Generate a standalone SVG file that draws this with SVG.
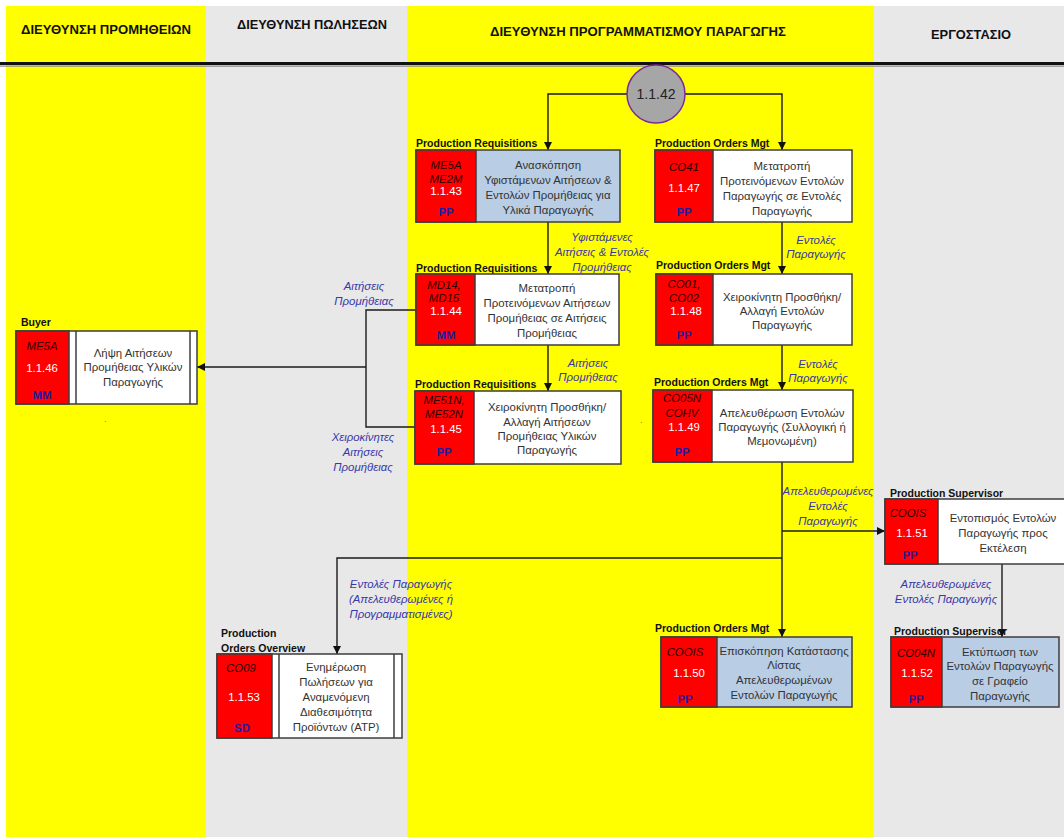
<svg xmlns="http://www.w3.org/2000/svg" width="1064" height="837" viewBox="0 0 1064 837">
  <defs>
    <marker id="arrow" viewBox="0 0 10 10" refX="10" refY="5" markerWidth="8" markerHeight="8" markerUnits="userSpaceOnUse" orient="auto">
      <path d="M0,0 L10,5 L0,10 Z" fill="#111"/>
    </marker>
    <style>
      .lane-y { fill: #ffff00; }
      .lane-g { fill: #e8e8e8; }
      .hdr { font-family: "Liberation Sans", Arial, sans-serif; font-weight: bold; font-size: 13px; text-anchor: middle; fill: #111; }
      .role { font-family: "Liberation Sans", Arial, sans-serif; font-weight: bold; font-size: 10.5px; fill: #111; }
      .box { stroke: #3c3c3c; stroke-width: 1.5; }
      .red { fill: #ff0000; }
      .wht { fill: #ffffff; }
      .blu { fill: #b9cde5; }
      .sep { stroke: #3c3c3c; stroke-width: 1.5; }
      .tx { font-family: "Liberation Sans", Arial, sans-serif; font-size: 11.4px; text-anchor: middle; fill: #333; }
      .tc { font-family: "Liberation Sans", Arial, sans-serif; font-size: 11.4px; font-style: italic; text-anchor: middle; fill: #2a0000; }
      .id { font-family: "Liberation Sans", Arial, sans-serif; font-size: 11.4px; text-anchor: middle; fill: #ffffff; }
      .mod { font-family: "Liberation Sans", Arial, sans-serif; font-size: 11.4px; font-weight: bold; text-anchor: middle; fill: #1c1ca8; }
      .cl { font-family: "Liberation Sans", Arial, sans-serif; font-size: 11.4px; font-style: italic; text-anchor: middle; fill: #3838a8; }
      .conn { stroke: #1a1a1a; stroke-width: 1.4; fill: none; }
      .dot { font-family: "Liberation Sans", Arial, sans-serif; font-size: 9px; fill: #777; }
    </style>
  </defs>

  <!-- swimlanes -->
  <g id="lanes">
    <rect x="0" y="0" width="1064" height="837" fill="#ffffff"/>
    <rect class="lane-y" x="6" y="6" width="200" height="831"/>
    <rect class="lane-g" x="206" y="6" width="201" height="831"/>
    <rect class="lane-y" x="407" y="6" width="467" height="831"/>
    <rect class="lane-g" x="874" y="6" width="190" height="831"/>
    <line x1="0" y1="63.5" x2="1064" y2="63.5" stroke="#111" stroke-width="2.8"/>
    <line x1="0" y1="66.2" x2="1064" y2="66.2" stroke="#8a8a8a" stroke-width="1.2"/>
    <text class="hdr" x="106" y="34" textLength="170" lengthAdjust="spacingAndGlyphs">ΔΙΕΥΘΥΝΣΗ ΠΡΟΜΗΘΕΙΩΝ</text>
    <text class="hdr" x="312" y="29" textLength="150" lengthAdjust="spacingAndGlyphs">ΔΙΕΥΘΥΝΣΗ ΠΩΛΗΣΕΩΝ</text>
    <text class="hdr" x="638" y="36" textLength="296" lengthAdjust="spacingAndGlyphs">ΔΙΕΥΘΥΝΣΗ ΠΡΟΓΡΑΜΜΑΤΙΣΜΟΥ ΠΑΡΑΓΩΓΗΣ</text>
    <text class="hdr" x="971" y="39" textLength="80" lengthAdjust="spacingAndGlyphs">ΕΡΓΟΣΤΑΣΙΟ</text>
    <text class="dot" x="104" y="422">.</text>
    <text class="dot" x="640" y="423">.</text>
  </g>

  <!-- connectors -->
  <g id="connectors">
    <polyline class="conn" points="628,94 548,94 548,150" marker-end="url(#arrow)"/>
    <polyline class="conn" points="685,94 782,94 782,150" marker-end="url(#arrow)"/>
    <line class="conn" x1="548" y1="222" x2="548" y2="274" marker-end="url(#arrow)"/>
    <line class="conn" x1="548" y1="345" x2="548" y2="391" marker-end="url(#arrow)"/>
    <line class="conn" x1="782" y1="222" x2="782" y2="274" marker-end="url(#arrow)"/>
    <line class="conn" x1="782" y1="345" x2="782" y2="390" marker-end="url(#arrow)"/>
    <line class="conn" x1="782" y1="462" x2="782" y2="637" marker-end="url(#arrow)"/>
    <line class="conn" x1="782" y1="531" x2="885" y2="531" marker-end="url(#arrow)"/>
    <polyline class="conn" points="782,558 337,558 337,654" marker-end="url(#arrow)"/>
    <line class="conn" x1="1002" y1="564" x2="1002" y2="637" marker-end="url(#arrow)"/>
    <polyline class="conn" points="416,310 366,310 366,427 416,427"/>
    <line class="conn" x1="366" y1="367" x2="197" y2="367" marker-end="url(#arrow)"/>

    <text class="cl" x="602" y="241">Υφιστάμενες</text>
    <text class="cl" x="602" y="256">Αιτήσεις &amp; Εντολές</text>
    <text class="cl" x="602" y="271">Προμήθειας</text>
    <text class="cl" x="816" y="244">Εντολές</text>
    <text class="cl" x="816" y="258">Παραγωγής</text>
    <text class="cl" x="588" y="367">Αιτήσεις</text>
    <text class="cl" x="588" y="381">Προμήθειας</text>
    <text class="cl" x="818" y="368">Εντολές</text>
    <text class="cl" x="818" y="382">Παραγωγής</text>
    <text class="cl" x="364" y="290">Αιτήσεις</text>
    <text class="cl" x="364" y="305">Προμήθειας</text>
    <text class="cl" x="363" y="441">Χειροκίνητες</text>
    <text class="cl" x="363" y="456">Αιτήσεις</text>
    <text class="cl" x="363" y="471">Προμήθειας</text>
    <text class="cl" x="828" y="495">Απελευθερωμένες</text>
    <text class="cl" x="828" y="510">Εντολές</text>
    <text class="cl" x="828" y="525">Παραγωγής</text>
    <text class="cl" x="946" y="588">Απελευθερωμένες</text>
    <text class="cl" x="946" y="603">Εντολές Παραγωγής</text>
    <text class="cl" x="401" y="588">Εντολές Παραγωγής</text>
    <text class="cl" x="401" y="603">(Απελευθερωμένες ή</text>
    <text class="cl" x="401" y="618">Προγραμματισμένες)</text>
  </g>

  <!-- start event -->
  <g id="n-1-1-42">
    <circle cx="656" cy="94" r="29" fill="#a6a6a6" stroke="#7a2a9a" stroke-width="1.5"/>
    <text x="656" y="99" font-family="'Liberation Sans', Arial, sans-serif" font-size="14" text-anchor="middle" fill="#222">1.1.42</text>
  </g>

  <g id="n-1-1-43">
    <text class="role" x="416" y="147">Production Requisitions</text>
    <rect class="box blu" x="416" y="150" width="204" height="72"/>
    <rect class="box red" x="416" y="150" width="60" height="72"/>
    <text class="tc" x="446" y="169">ME5A</text>
    <text class="tc" x="446" y="183">ME2M</text>
    <text class="id" x="446" y="195">1.1.43</text>
    <text class="mod" x="446" y="216">PP</text>
    <text class="tx" x="548" y="169">Ανασκόπηση</text>
    <text class="tx" x="548" y="184">Υφιστάμενων Αιτήσεων &amp;</text>
    <text class="tx" x="548" y="199">Εντολών Προμήθειας για</text>
    <text class="tx" x="548" y="214">Υλικά  Παραγωγής</text>
  </g>

  <g id="n-1-1-47">
    <text class="role" x="655" y="147">Production Orders Mgt</text>
    <rect class="box wht" x="655" y="150" width="197" height="72"/>
    <rect class="box red" x="655" y="150" width="58" height="72"/>
    <text class="tc" x="684" y="171">CO41</text>
    <text class="id" x="684" y="192">1.1.47</text>
    <text class="mod" x="684" y="216">PP</text>
    <text class="tx" x="782" y="170">Μετατροπή</text>
    <text class="tx" x="782" y="185">Προτεινόμενων Εντολών</text>
    <text class="tx" x="782" y="200">Παραγωγής σε Εντολές</text>
    <text class="tx" x="782" y="215">Παραγωγής</text>
  </g>

  <g id="n-1-1-44">
    <text class="role" x="416" y="272">Production Requisitions</text>
    <rect class="box wht" x="416" y="274" width="203" height="71"/>
    <rect class="box red" x="416" y="274" width="59" height="71"/>
    <text class="tc" x="444" y="289">MD14,</text>
    <text class="tc" x="444" y="302">MD15</text>
    <text class="id" x="446" y="315">1.1.44</text>
    <text class="mod" x="446" y="339">MM</text>
    <text class="tx" x="547" y="292">Μετατροπή</text>
    <text class="tx" x="547" y="307">Προτεινόμενων Αιτήσεων</text>
    <text class="tx" x="547" y="322">Προμήθειας σε Αιτήσεις</text>
    <text class="tx" x="547" y="337">Προμήθειας</text>
  </g>

  <g id="n-1-1-48">
    <text class="role" x="656" y="269">Production Orders Mgt</text>
    <rect class="box wht" x="656" y="274" width="196" height="71"/>
    <rect class="box red" x="656" y="274" width="57" height="71"/>
    <text class="tc" x="684" y="288">CO01,</text>
    <text class="tc" x="684" y="302">CO02</text>
    <text class="id" x="686" y="315">1.1.48</text>
    <text class="mod" x="684" y="339">PP</text>
    <text class="tx" x="782" y="301">Χειροκίνητη Προσθήκη/</text>
    <text class="tx" x="782" y="315">Αλλαγή Εντολών</text>
    <text class="tx" x="782" y="329">Παραγωγής</text>
  </g>

  <g id="n-1-1-45">
    <text class="role" x="415" y="388">Production Requisitions</text>
    <rect class="box wht" x="415" y="391" width="206" height="73"/>
    <rect class="box red" x="415" y="391" width="59" height="73"/>
    <text class="tc" x="444" y="404">ME51N,</text>
    <text class="tc" x="444" y="418">ME52N</text>
    <text class="id" x="446" y="433">1.1.45</text>
    <text class="mod" x="444" y="456">PP</text>
    <text class="tx" x="547" y="411">Χειροκίνητη Προσθήκη/</text>
    <text class="tx" x="547" y="426">Αλλαγή Αιτήσεων</text>
    <text class="tx" x="547" y="440">Προμήθειας Υλικών</text>
    <text class="tx" x="547" y="454">Παραγωγής</text>
  </g>

  <g id="n-1-1-49">
    <text class="role" x="654" y="386">Production Orders Mgt</text>
    <rect class="box wht" x="653" y="390" width="200" height="72"/>
    <rect class="box red" x="653" y="390" width="59" height="72"/>
    <text class="tc" x="682" y="402">CO05N</text>
    <text class="tc" x="682" y="417">COHV</text>
    <text class="id" x="684" y="431">1.1.49</text>
    <text class="mod" x="682" y="456">PP</text>
    <text class="tx" x="782" y="417">Απελευθέρωση Εντολών</text>
    <text class="tx" x="782" y="431">Παραγωγής (Συλλογική ή</text>
    <text class="tx" x="782" y="445">Μεμονωμένη)</text>
  </g>

  <g id="n-1-1-46">
    <text class="role" x="21" y="326">Buyer</text>
    <rect class="box wht" x="16" y="331" width="181" height="73"/>
    <rect class="box red" x="16" y="331" width="53" height="73"/>
    <line class="sep" x1="76" y1="331" x2="76" y2="404"/>
    <line class="sep" x1="190" y1="331" x2="190" y2="404"/>
    <text class="tc" x="42" y="350">ME5A</text>
    <text class="id" x="42" y="372">1.1.46</text>
    <text class="mod" x="42" y="399">MM</text>
    <text class="tx" x="133" y="357">Λήψη Αιτήσεων</text>
    <text class="tx" x="133" y="371">Προμήθειας Υλικών</text>
    <text class="tx" x="133" y="386">Παραγωγής</text>
  </g>

  <g id="n-1-1-51">
    <text class="role" x="890" y="497">Production Supervisor</text>
    <rect class="box wht" x="885" y="499" width="183" height="65"/>
    <rect class="box red" x="885" y="499" width="53" height="65"/>
    <text class="tc" x="908" y="517">COOIS</text>
    <text class="id" x="912" y="537">1.1.51</text>
    <text class="mod" x="910" y="559">PP</text>
    <text class="tx" x="1003" y="522">Εντοπισμός Εντολών</text>
    <text class="tx" x="1003" y="537">Παραγωγής προς</text>
    <text class="tx" x="1003" y="552">Εκτέλεση</text>
  </g>

  <g id="n-1-1-50">
    <text class="role" x="655" y="632">Production Orders Mgt</text>
    <rect class="box blu" x="661" y="637" width="191" height="70"/>
    <rect class="box red" x="661" y="637" width="56" height="70"/>
    <text class="tc" x="685" y="656">COOIS</text>
    <text class="id" x="689" y="677">1.1.50</text>
    <text class="mod" x="685" y="703">PP</text>
    <text class="tx" x="784" y="655">Επισκόπηση Κατάστασης</text>
    <text class="tx" x="784" y="669">Λίστας</text>
    <text class="tx" x="784" y="684">Απελευθερωμένων</text>
    <text class="tx" x="784" y="699">Εντολών Παραγωγής</text>
  </g>

  <g id="n-1-1-52">
    <text class="role" x="894" y="635">Production Supervisor</text>
    <rect class="box blu" x="891" y="637" width="168" height="70"/>
    <rect class="box red" x="891" y="637" width="51" height="70"/>
    <text class="tc" x="916" y="657">CO04N</text>
    <text class="id" x="917" y="677">1.1.52</text>
    <text class="mod" x="916" y="703">PP</text>
    <text class="tx" x="1000" y="656">Εκτύπωση των</text>
    <text class="tx" x="1000" y="670">Εντολών Παραγωγής</text>
    <text class="tx" x="1000" y="685">σε Γραφείο</text>
    <text class="tx" x="1000" y="700">Παραγωγής</text>
  </g>

  <g id="n-1-1-53">
    <text class="role" x="221" y="637">Production</text>
    <text class="role" x="221" y="652">Orders Overview</text>
    <rect class="box wht" x="217" y="654" width="185" height="84"/>
    <rect class="box red" x="217" y="654" width="55" height="84"/>
    <line class="sep" x1="279" y1="654" x2="279" y2="738"/>
    <line class="sep" x1="394" y1="654" x2="394" y2="738"/>
    <text class="tc" x="241" y="672">CO09</text>
    <text class="id" x="244" y="701">1.1.53</text>
    <text class="mod" x="242" y="732">SD</text>
    <text class="tx" x="336" y="671">Ενημέρωση</text>
    <text class="tx" x="336" y="686">Πωλήσεων για</text>
    <text class="tx" x="336" y="701">Αναμενόμενη</text>
    <text class="tx" x="336" y="716">Διαθεσιμότητα</text>
    <text class="tx" x="336" y="731">Προϊόντων (ATP)</text>
  </g>
</svg>
